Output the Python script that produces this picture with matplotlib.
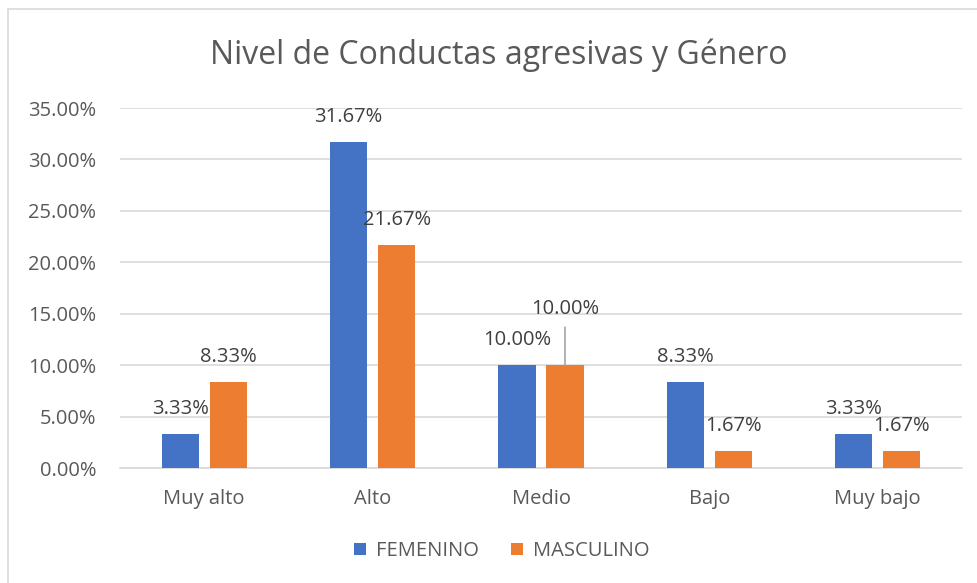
import matplotlib.pyplot as plt
import matplotlib.patches as patches
import numpy as np

plt.rcParams['font.family'] = ['Open Sans', 'DejaVu Sans']

# Chart data
categories = ['Muy alto', 'Alto', 'Medio', 'Bajo', 'Muy bajo']
femenino = [3.33, 31.67, 10.00, 8.33, 3.33]
masculino = [8.33, 21.67, 10.00, 1.67, 1.67]
series_names = ['FEMENINO', 'MASCULINO']
y_ticks = [0, 5, 10, 15, 20, 25, 30, 35]

# Styling
colors = ['#4472C4', '#ED7D31']
text_color = '#595959'
label_color = '#404040'
grid_color = '#D9D9D9'
fs = 14.5

fig = plt.figure(figsize=(9.78, 5.83), dpi=100)
ax = fig.add_axes([120 / 978, 1 - 468 / 583, 842 / 978, 360 / 583])

x = np.arange(len(categories))
bar_width = 0.22
offset = 0.1425

bars_f = ax.bar(x - offset, femenino, bar_width, color=colors[0], label=series_names[0], zorder=3)
bars_m = ax.bar(x + offset, masculino, bar_width, color=colors[1], label=series_names[1], zorder=3)

ax.set_xlim(-0.5, len(categories) - 0.5)
ax.set_ylim(0, 35)
ax.set_yticks(y_ticks)
ax.set_yticklabels([f'{v:.2f}%' for v in y_ticks])
ax.set_xticks(x)
ax.set_xticklabels(categories)
ax.tick_params(axis='both', length=0, labelsize=fs, colors=text_color)
ax.tick_params(axis='y', pad=17)
ax.tick_params(axis='x', pad=15)
ax.grid(axis='y', color=grid_color, linewidth=1.2, zorder=0)
for side in ['top', 'right', 'left']:
    ax.spines[side].set_visible(False)
ax.spines['bottom'].set_color(grid_color)
ax.spines['bottom'].set_linewidth(1.2)

# Data labels, centered above each bar
for bars, vals, name in [(bars_f, femenino, 'F'), (bars_m, masculino, 'M')]:
    for i, (b, v) in enumerate(zip(bars, vals)):
        cx = b.get_x() + b.get_width() / 2
        dy = 25
        if name == 'M' and categories[i] == 'Medio':
            dy = 56
            ax.annotate('', xy=(cx, v), xytext=(0, 38), textcoords='offset pixels',
                        arrowprops=dict(arrowstyle='-', color='#A6A6A6', lw=1.2,
                                        shrinkA=0, shrinkB=0))
        ax.annotate(f'{v:.2f}%', xy=(cx, v), xytext=(0, dy), textcoords='offset pixels',
                    ha='center', va='center', fontsize=fs, color=label_color)

fig.text(499 / 978, 1 - 55 / 583, 'Nivel de Conductas agresivas y Género',
         ha='center', va='center', fontsize=23, color=text_color)

leg = fig.legend(handles=[bars_f, bars_m], labels=series_names, loc='center',
                 bbox_to_anchor=(502 / 978, 1 - 551 / 583), ncol=2, frameon=False,
                 fontsize=fs, handlelength=0.6, handleheight=0.6, handletextpad=0.5,
                 columnspacing=1.6)
for t in leg.get_texts():
    t.set_color(text_color)

# Chart border (extends past the image on right and bottom)
fig.patches.append(patches.Rectangle((8 / 978, -0.1), 1.2, 1.1 - 9 / 583,
                                     transform=fig.transFigure, fill=False,
                                     edgecolor=grid_color, linewidth=1.2))

fig.savefig('out.png', dpi=100)
